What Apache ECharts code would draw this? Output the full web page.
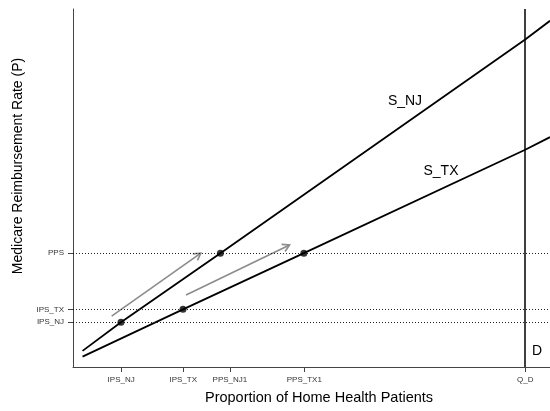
<!DOCTYPE html>
<html>
<head>
<meta charset="utf-8">
<script src="https://cdn.jsdelivr.net/npm/echarts@6/dist/echarts.min.js"></script>
<style>html,body{margin:0;padding:0;background:#fff}#c{width:550px;height:411px}</style>
</head>
<body>
<div id="c"></div>
<script>
// Tick positions and labels
var xTickValues = [10.1, 23.1, 32.9, 48.5, 94.8];
var xTickLabels = ['IPS_NJ', 'IPS_TX', 'PPS_NJ1', 'PPS_TX1', 'Q_D'];
var yTickValues = [12.5, 16.1, 31.8];
var yTickLabels = ['IPS_NJ', 'IPS_TX', 'PPS'];

// Supply curves
var sNJ_x = [2.0, 10.06, 30.9, 94.8, 100];
var sNJ_y = [4.5, 12.5, 31.8, 91.5, 96.7];
var sTX_x = [2.0, 23.06, 48.4, 94.8, 100];
var sTX_y = [2.9, 16.1, 31.8, 60.7, 64.2];

// Equilibrium points
var pts_x = [10.06, 23.06, 30.9, 48.4];
var pts_y = [12.5, 16.1, 31.8, 31.8];

// Shift arrows: [x1, y1, x2, y2]
var arrows = [[8.1, 14.2, 26.8, 31.8], [23.7, 20.1, 45.4, 34.1]];

// Reference lines
var dottedY = [31.8, 16.1, 12.5];
var demandX = 94.8;

function zip(xs, ys){ return xs.map(function(x,i){ return [x, ys[i]]; }); }
function lookup(vals, labels){
  return function(v){
    for (var i=0;i<vals.length;i++){ if (Math.abs(vals[i]-v) < 1e-6) return labels[i]; }
    return '';
  };
}

var chart = echarts.init(document.getElementById('c'));
var font = 'Liberation Sans, Arial, sans-serif';
chart.setOption({
  animation: false,
  backgroundColor: '#fff',
  grid: {left: 73, right: 0, top: 9, bottom: 44},
  xAxis: {
    type: 'value', min: 0, max: 100,
    splitLine: {show: false},
    axisLine: {show: true, lineStyle: {color: '#444', width: 1}},
    axisTick: {show: true, customValues: xTickValues, length: 5, lineStyle: {color: '#444'}},
    axisLabel: {customValues: xTickValues, formatter: lookup(xTickValues, xTickLabels),
      fontSize: 8, color: '#333', margin: 9, fontFamily: font}
  },
  yAxis: {
    type: 'value', min: 0, max: 100,
    splitLine: {show: false},
    axisLine: {show: true, lineStyle: {color: '#444', width: 1}},
    axisTick: {show: true, customValues: yTickValues, length: 5, lineStyle: {color: '#444'}},
    axisLabel: {customValues: yTickValues, formatter: lookup(yTickValues, yTickLabels),
      fontSize: 8, color: '#333', margin: 9, fontFamily: font}
  },
  series: [
    {
      type: 'line', data: zip(sNJ_x, sNJ_y), symbol: 'none',
      lineStyle: {color: '#000', width: 1.8}, z: 3,
      markLine: {
        silent: true, symbol: 'none', label: {show: false},
        data: dottedY.map(function(v){ return {yAxis: v, lineStyle: {type: [1,2], color: '#222', width: 1}}; })
          .concat([{xAxis: demandX, lineStyle: {type: 'solid', color: '#000', width: 1.5}}])
      }
    },
    {
      type: 'line', data: zip(sTX_x, sTX_y), symbol: 'none',
      lineStyle: {color: '#000', width: 1.8}, z: 3
    },
    {
      type: 'scatter', data: zip(pts_x, pts_y), symbol: 'circle', symbolSize: 7,
      itemStyle: {color: '#000'}, z: 5
    },
    {
      type: 'custom', data: arrows, encode: {x: [0, 2], y: [1, 3]}, z: 4,
      renderItem: function(params, api){
        var p1 = api.coord([api.value(0), api.value(1)]);
        var p2 = api.coord([api.value(2), api.value(3)]);
        var ang = Math.atan2(p2[1]-p1[1], p2[0]-p1[0]);
        var L = 8, a = Math.PI/6;
        var h1 = [p2[0]-L*Math.cos(ang-a), p2[1]-L*Math.sin(ang-a)];
        var h2 = [p2[0]-L*Math.cos(ang+a), p2[1]-L*Math.sin(ang+a)];
        var st = {stroke: '#8c8c8c', lineWidth: 1.6, fill: null};
        return {type: 'group', children: [
          {type: 'line', shape: {x1: p1[0], y1: p1[1], x2: p2[0], y2: p2[1]}, style: st},
          {type: 'polyline', shape: {points: [h1, p2, h2]}, style: st}
        ]};
      }
    }
  ],
  graphic: [
    {type: 'text', x: 319, y: 398, style: {text: 'Proportion of Home Health Patients', fontSize: 14.5, fontFamily: font, fill: '#000', align: 'center', verticalAlign: 'middle'}},
    {type: 'text', x: 18, y: 166, rotation: Math.PI/2, style: {text: 'Medicare Reimbursement Rate (P)', fontSize: 14, fontFamily: font, fill: '#000', align: 'center', verticalAlign: 'middle'}},
    {type: 'text', x: 405, y: 101, style: {text: 'S_NJ', fontSize: 14, fontFamily: font, fill: '#000', align: 'center', verticalAlign: 'middle'}},
    {type: 'text', x: 441, y: 171, style: {text: 'S_TX', fontSize: 14, fontFamily: font, fill: '#000', align: 'center', verticalAlign: 'middle'}},
    {type: 'text', x: 537, y: 351, style: {text: 'D', fontSize: 14, fontFamily: font, fill: '#000', align: 'center', verticalAlign: 'middle'}}
  ]
});
</script>
</body>
</html>
